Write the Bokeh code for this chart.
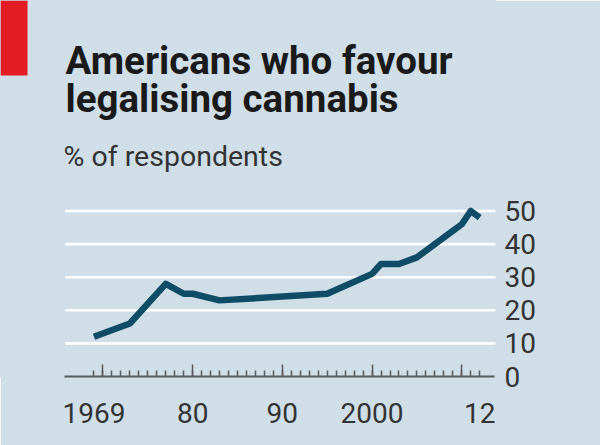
from bokeh.plotting import figure
from bokeh.models import (Range1d, LinearAxis, FixedTicker, Label, BoxAnnotation,
                          ColumnDataSource, CustomLabelingPolicy)
from bokeh.embed import file_html
from bokeh.resources import INLINE

# ---- data (% of respondents) ----
years = [1969, 1973, 1977, 1979, 1980, 1983, 1995, 2000, 2001, 2003, 2005, 2009, 2010, 2011, 2012]
values = [12, 16, 28, 25, 25, 23, 25, 31, 34, 34, 36, 44, 46, 50, 48]

y_ticks = [0, 10, 20, 30, 40, 50]
x_label_ticks = [1969, 1980, 1990, 2000, 2012]
x_label_text = ["1969", "80", "90", "2000", "12"]
x_major_ticks = [1970, 1980, 1990, 2000, 2010]
x_minor_ticks = list(range(1969, 2013))

title_lines = ["Americans who favour", "legalising cannabis"]
subtitle = "% of respondents"

# ---- style ----
BG = "#d0dee7"
LINE = "#0f4c66"
RED = "#e31b23"
TXT = "#1a1a1a"
LAB = "#333333"
FONT = "Roboto"

X0, X1 = 1958.58, 2013.76
Y0, Y1 = 0, 113.6

p = figure(width=600, height=445, x_range=Range1d(X0, X1), y_range=Range1d(Y0, Y1),
           x_axis_location=None, y_axis_location=None,
           min_border_left=0, min_border_top=0, min_border_right=105, min_border_bottom=69,
           toolbar_location=None, output_backend="svg",
           background_fill_color=BG, border_fill_color=BG,
           outline_line_color=BG, outline_line_width=2)
p.grid.visible = False

# gridlines (white), spanning the plotted area only
gx0, gx1 = 1965.8, X1
grid_vals = [v for v in y_ticks if v > 0]
p.segment(x0=[gx0] * len(grid_vals), x1=[gx1] * len(grid_vals), y0=grid_vals, y1=grid_vals,
          line_color="white", line_width=2.6)

# data line
src = ColumnDataSource(dict(x=years, y=values))
p.line("x", "y", source=src, line_color=LINE, line_width=6.5, line_join="round", line_cap="butt")

# x axis: ticks only (labels suppressed by policy)
xt = LinearAxis(ticker=FixedTicker(ticks=x_major_ticks, minor_ticks=x_minor_ticks),
                bounds=(1965.71, 2013.65))
xt.axis_line_color = "#5a5a5a"
xt.axis_line_width = 2
xt.major_tick_in = 12
xt.major_tick_out = 0
xt.minor_tick_in = 6
xt.minor_tick_out = 0
xt.major_tick_line_color = "#5a5a5a"
xt.minor_tick_line_color = "#5a5a5a"
xt.major_tick_line_width = 1.5
xt.minor_tick_line_width = 1.5
xt.major_label_text_font_size = "1px"
xt.major_label_standoff = 0
xt.major_label_policy = CustomLabelingPolicy(code="""
const ids = Array.from(indices)
for (const i of ids) indices.unset(i)
return indices
""")
p.add_layout(xt, "below")

# x axis: labels only
xl = LinearAxis(ticker=FixedTicker(ticks=x_label_ticks, minor_ticks=[]))
xl.axis_line_color = None
xl.major_tick_line_color = None
xl.minor_tick_line_color = None
xl.major_tick_in = 0
xl.major_tick_out = 0
xl.major_label_overrides = {t: s for t, s in zip(x_label_ticks, x_label_text)}
xl.major_label_text_font = FONT
xl.major_label_text_font_size = "28px"
xl.major_label_text_color = LAB
xl.major_label_standoff = 22
p.add_layout(xl, "below")

# right y axis: labels only
ya = LinearAxis(ticker=FixedTicker(ticks=y_ticks, minor_ticks=[]))
ya.axis_line_color = None
ya.major_tick_line_color = None
ya.minor_tick_line_color = None
ya.major_tick_in = 0
ya.major_tick_out = 0
ya.major_label_text_font = FONT
ya.major_label_text_font_size = "28px"
ya.major_label_text_color = LAB
ya.major_label_standoff = 9
p.add_layout(ya, "right")

# red tab
FH = 376  # frame height in px
p.add_layout(BoxAnnotation(left=0, right=27, top=FH, bottom=FH - 75,
                           left_units="screen", right_units="screen",
                           top_units="screen", bottom_units="screen",
                           fill_color=RED, fill_alpha=1, line_color=None))

# titles
for txt, base in zip(title_lines, [75, 113]):
    p.add_layout(Label(x=65, y=FH - base + 15, x_units="screen", y_units="screen", text=txt,
                       text_font=FONT, text_font_style="bold", text_font_size="38.5px",
                       text_color=TXT, text_baseline="alphabetic", text_align="left"))
p.add_layout(Label(x=63, y=FH - 166.5 + 11, x_units="screen", y_units="screen", text=subtitle,
                   text_font=FONT, text_font_size="28.5px", text_color="#333333",
                   text_baseline="alphabetic", text_align="left"))

open("out.html", "w").write(file_html(p, INLINE))
